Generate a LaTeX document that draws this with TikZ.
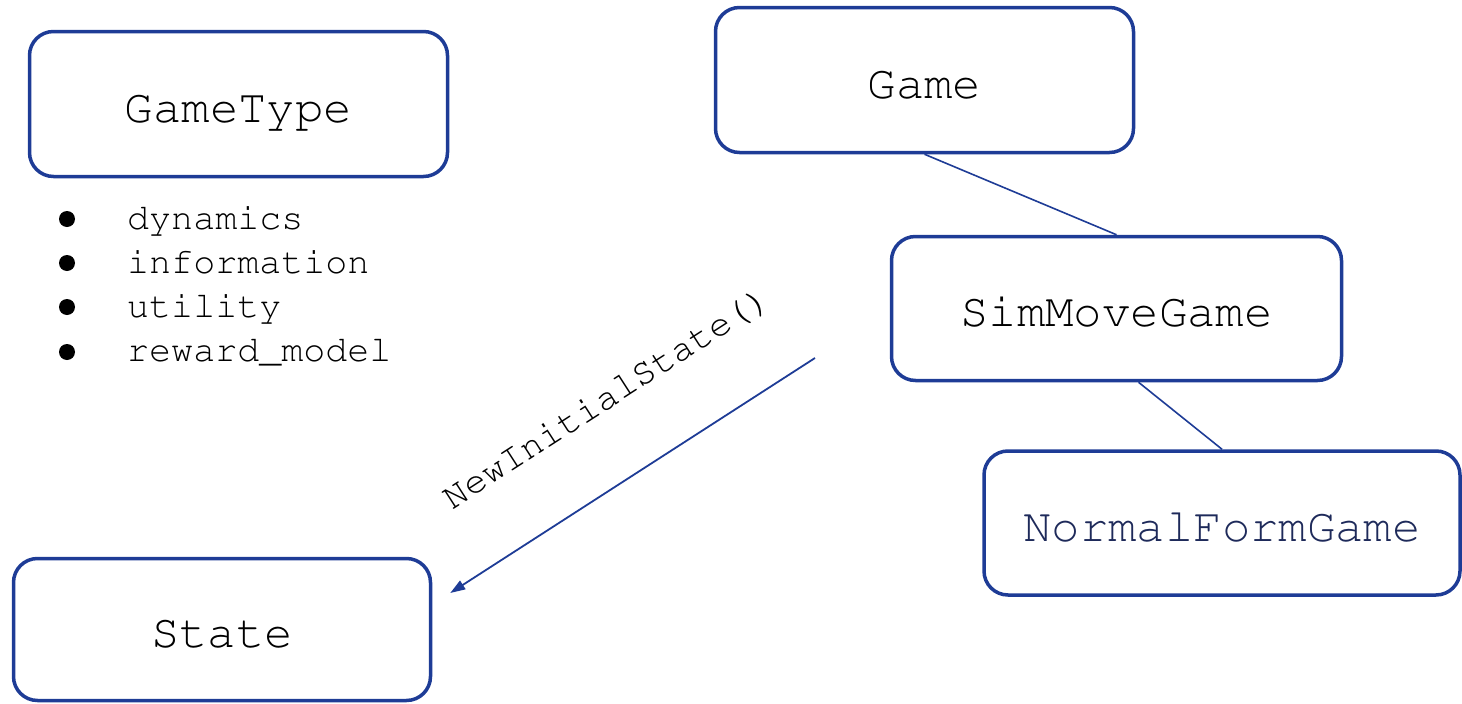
\documentclass[tikz,border=0pt]{standalone}
\usepackage[T1]{fontenc}
\usepackage{courier}
\usetikzlibrary{arrows.meta}
\definecolor{edgeblue}{RGB}{30,60,150}
\definecolor{navytext}{RGB}{30,42,90}
\tikzset{
  classbox/.style={draw=edgeblue, line width=3.5pt, rounded corners=24pt, inner sep=0pt,
    font=\ttfamily\fontsize{47.3}{56}\selectfont, text height=36pt, text depth=0pt},
  link/.style={draw=edgeblue, line width=1.6pt},
  call/.style={draw=edgeblue, line width=1.8pt, -{Triangle[length=15pt,width=10pt]}},
  listitem/.style={anchor=base west, inner sep=0pt, font=\ttfamily\fontsize{36.7}{44}\selectfont},
  bulletdot/.style={circle, fill=black, draw=none, inner sep=0pt, minimum size=16pt},
  calllabel/.style={anchor=base, inner sep=0pt, rotate=32.8, font=\ttfamily\fontsize{37.3}{44}\selectfont},
}
\begin{document}
\begin{tikzpicture}[x=1pt,y=-1pt]
\useasboundingbox (0,0) rectangle (1462,704);

% class boxes
\node[classbox, minimum width=418pt, minimum height=145pt] (gametype) at (238.5,104) {GameType};
\node[classbox, minimum width=418pt, minimum height=145pt] (game) at (924.5,80) {Game};
\node[classbox, minimum width=450pt, minimum height=144pt] (sim) at (1116.5,308.5) {SimMoveGame};
\node[classbox, minimum width=476pt, minimum height=144pt, text=navytext] (nfg) at (1222,523) {NormalFormGame};
\node[classbox, minimum width=417pt, minimum height=142pt] (state) at (222,629.5) {State};

% GameType fields
\node[bulletdot] (b1) at (67,219) {};
\node[bulletdot] (b2) at (67,263) {};
\node[bulletdot] (b3) at (67,307) {};
\node[bulletdot] (b4) at (67,352) {};
\node[listitem] (f1) at (127,229) {dynamics};
\node[listitem] (f2) at (127,273) {information};
\node[listitem] (f3) at (127,317) {utility};
\node[listitem] (f4) at (127,361) {reward\_model};

% inheritance links
\draw[link] (game.south) -- (sim.north);
\draw[link] ([xshift=22pt]sim.south) -- (nfg.north);

% factory call
\coordinate (callstart) at (815,358);
\coordinate (calltip) at ([xshift=18pt,yshift=36.5pt]state.east);
\draw[call] (callstart) -- (calltip);
\node[calllabel] (calltext) at (612,407) {NewInitialState()};
\end{tikzpicture}
\end{document}
